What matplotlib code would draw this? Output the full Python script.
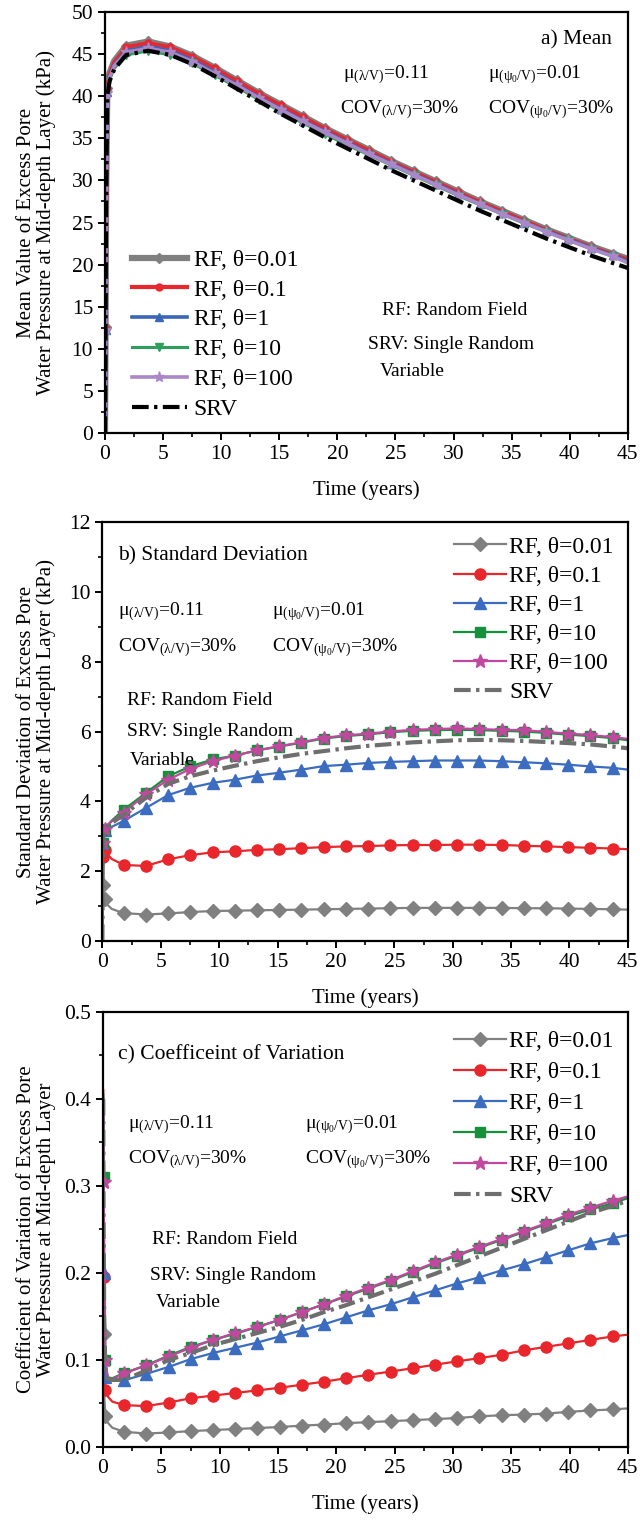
import matplotlib
matplotlib.use("Agg")
import matplotlib.pyplot as plt
from matplotlib.ticker import MultipleLocator, AutoMinorLocator, FormatStrFormatter

plt.rcParams.update({
    "font.family": ["Liberation Serif", "DejaVu Serif"],
    "mathtext.fontset": "custom",
    "mathtext.rm": "Liberation Serif",
    "mathtext.it": "Liberation Serif:italic",
    "mathtext.default": "regular",
    "axes.linewidth": 1.6,
    "xtick.direction": "out",
    "ytick.direction": "out",
    "xtick.major.width": 1.4,
    "ytick.major.width": 1.4,
    "xtick.minor.width": 1.2,
    "ytick.minor.width": 1.2,
    "xtick.major.size": 5,
    "ytick.major.size": 5,
    "xtick.minor.size": 3,
    "ytick.minor.size": 3,
})

# ---------------- data ----------------
TIME = [0.0, 0.02, 0.05, 0.1, 0.2, 0.4, 0.8,
        1.82, 3.72, 5.63, 7.53, 9.43, 11.34, 13.24, 15.14, 17.05, 18.95,
        20.85, 22.76, 24.66, 26.56, 28.47, 30.37, 32.27, 34.18, 36.08,
        37.98, 39.89, 41.79, 43.69, 45.0]
TIME_COV = TIME[1:]

LABELS = ["RF, θ=0.01", "RF, θ=0.1", "RF, θ=1", "RF, θ=10", "RF, θ=100", "SRV"]

# mean excess pore water pressure (kPa)
mean_t001 = [0, 4.6, 12.6, 28.5, 41.0, 42.8, 44.2, 46.0, 46.5, 45.9, 44.8, 43.4, 41.9, 40.4,
             39.0, 37.6, 36.2, 34.9, 33.6, 32.3, 31.1, 29.9, 28.7, 27.5, 26.4, 25.3, 24.2,
             23.2, 22.2, 21.3, 20.7]
mean_t01 = [0, 4.4, 12.3, 28.0, 40.8, 42.6, 44.0, 45.8, 46.3, 45.8, 44.7, 43.3, 41.8, 40.3,
            38.9, 37.5, 36.1, 34.8, 33.5, 32.2, 31.0, 29.8, 28.6, 27.4, 26.3, 25.2, 24.1,
            23.1, 22.1, 21.2, 20.6]
mean_t1 = [0, 4.2, 12.2, 27.6, 40.5, 42.3, 43.7, 45.4, 45.9, 45.4, 44.3, 42.9, 41.4, 39.9,
           38.5, 37.1, 35.8, 34.5, 33.2, 32.0, 30.8, 29.6, 28.4, 27.2, 26.1, 25.0, 24.0,
           23.0, 22.0, 21.1, 20.4]
mean_t10 = [0, 4.0, 12.0, 27.2, 40.2, 42.0, 43.3, 44.9, 45.4, 44.9, 43.9, 42.5, 41.1, 39.6,
            38.2, 36.8, 35.5, 34.2, 33.0, 31.8, 30.6, 29.4, 28.2, 27.1, 26.0, 24.9, 23.9,
            22.9, 21.9, 21.0, 20.3]
mean_t100 = [0, 4.1, 12.2, 27.5, 40.4, 42.2, 43.6, 45.2, 45.7, 45.2, 44.1, 42.7, 41.3, 39.8,
             38.4, 37.0, 35.7, 34.4, 33.1, 31.9, 30.7, 29.5, 28.3, 27.2, 26.0, 25.0, 23.9,
             22.9, 21.9, 21.0, 20.2]
mean_srv = [0, 4.0, 12.0, 27.0, 40.0, 41.8, 43.2, 44.9, 45.4, 44.9, 43.8, 42.4, 40.9, 39.4,
            37.9, 36.5, 35.1, 33.8, 32.5, 31.2, 30.0, 28.8, 27.6, 26.4, 25.3, 24.2, 23.1,
            22.1, 21.1, 20.2, 19.6]

# standard deviation (kPa)
sd_t001 = [0, 1.0, 1.6, 1.3, 1.2, 1.05, 0.92, 0.80, 0.76, 0.79, 0.83, 0.86, 0.87, 0.88, 0.89,
           0.90, 0.91, 0.92, 0.93, 0.94, 0.95, 0.95, 0.95, 0.95, 0.95, 0.94, 0.94, 0.93,
           0.92, 0.91, 0.90]
sd_t01 = [0, 1.5, 2.4, 2.65, 2.62, 2.5, 2.35, 2.18, 2.15, 2.34, 2.46, 2.54, 2.57, 2.61, 2.63,
          2.66, 2.69, 2.71, 2.72, 2.74, 2.75, 2.75, 2.76, 2.76, 2.75, 2.73, 2.71, 2.69,
          2.67, 2.65, 2.63]
sd_t1 = [0, 1.8, 2.8, 3.1, 3.17, 3.2, 3.27, 3.44, 3.81, 4.18, 4.39, 4.53, 4.62, 4.74, 4.82,
         4.91, 5.01, 5.05, 5.10, 5.13, 5.15, 5.17, 5.17, 5.17, 5.15, 5.12, 5.09, 5.05,
         5.00, 4.96, 4.91]
sd_t10 = [0, 1.8, 2.8, 3.15, 3.22, 3.3, 3.45, 3.76, 4.24, 4.72, 5.0, 5.2, 5.31, 5.46, 5.57,
          5.68, 5.80, 5.87, 5.92, 5.98, 6.02, 6.04, 6.05, 6.04, 6.02, 6.00, 5.96, 5.91,
          5.87, 5.81, 5.75]
sd_t100 = [0, 1.8, 2.8, 3.15, 3.22, 3.3, 3.43, 3.68, 4.2, 4.62, 4.93, 5.15, 5.31, 5.46, 5.58,
           5.69, 5.82, 5.89, 5.94, 6.0, 6.05, 6.07, 6.09, 6.07, 6.05, 6.04, 5.99, 5.94,
           5.90, 5.84, 5.79]
sd_srv = [0, 1.8, 2.8, 3.1, 3.2, 3.28, 3.38, 3.62, 4.1, 4.5, 4.72, 4.88, 5.02, 5.15, 5.26,
          5.36, 5.44, 5.52, 5.59, 5.64, 5.69, 5.72, 5.75, 5.76, 5.75, 5.73, 5.70, 5.67,
          5.63, 5.57, 5.52]

# coefficient of variation (plotted from the first non-zero time)
cov_t001 = [0.27, 0.13, 0.06, 0.035, 0.028, 0.022, 0.0174, 0.0154, 0.0166, 0.0182, 0.0194,
            0.0206, 0.0217, 0.0229, 0.0245, 0.0257, 0.0273, 0.0285, 0.0296, 0.0308, 0.032,
            0.0332, 0.0352, 0.0364, 0.0372, 0.0383, 0.0403, 0.0419, 0.0431, 0.0443]
cov_t01 = [0.41, 0.195, 0.1, 0.065, 0.058, 0.052, 0.048, 0.047, 0.051, 0.056, 0.059, 0.062,
           0.065, 0.068, 0.0715, 0.075, 0.079, 0.083, 0.0866, 0.0905, 0.0945, 0.0984, 0.102,
           0.106, 0.111, 0.115, 0.119, 0.123, 0.127, 0.129]
cov_t1 = [0.40, 0.20, 0.12, 0.08, 0.077, 0.076, 0.0767, 0.084, 0.092, 0.101, 0.108, 0.114,
          0.120, 0.127, 0.134, 0.141, 0.149, 0.157, 0.164, 0.172, 0.180, 0.188, 0.195, 0.203,
          0.210, 0.218, 0.226, 0.234, 0.240, 0.2435]
cov_t10 = [0.405, 0.31, 0.21, 0.1, 0.08, 0.079, 0.085, 0.094, 0.105, 0.115, 0.123, 0.130,
           0.138, 0.146, 0.155, 0.164, 0.173, 0.182, 0.191, 0.201, 0.211, 0.220, 0.229, 0.238,
           0.247, 0.256, 0.265, 0.273, 0.280, 0.286]
cov_t100 = [0.40, 0.305, 0.2, 0.1, 0.079, 0.078, 0.0846, 0.0937, 0.104, 0.114, 0.123, 0.131,
            0.138, 0.146, 0.155, 0.164, 0.174, 0.183, 0.192, 0.202, 0.212, 0.221, 0.230, 0.239,
            0.248, 0.257, 0.267, 0.275, 0.283, 0.288]
cov_srv = [0.40, 0.25, 0.15, 0.085, 0.078, 0.077, 0.077, 0.088, 0.1, 0.108, 0.117, 0.124,
           0.131, 0.138, 0.146, 0.155, 0.163, 0.172, 0.181, 0.19, 0.199, 0.209, 0.219, 0.229,
           0.239, 0.249, 0.259, 0.269, 0.277, 0.283]

# ---------------- styles ----------------
MARK_IDX = [2, 4] + list(range(7, 30))          # marker positions on TIME
MARK_IDX_COV = [i - 1 for i in MARK_IDX]          # same positions on TIME_COV

style_a = [
    dict(color="#808080", lw=4.5, marker="D", ms=5),
    dict(color="#e8282e", lw=3.0, marker="o", ms=5),
    dict(color="#3a66b8", lw=2.6, marker="^", ms=6),
    dict(color="#2ca05a", lw=2.2, marker="v", ms=6),
    dict(color="#a987c8", lw=2.6, marker="*", ms=8),
    dict(color="black", lw=3.0, marker=None, ls=(0, (4, 1.3, 0.8, 1.3))),
]
style_bc = [
    dict(color="#808080", lw=1.6, marker="D", ms=7),
    dict(color="#e8262b", lw=1.6, marker="o", ms=8),
    dict(color="#3b6cc0", lw=1.6, marker="^", ms=8),
    dict(color="#15913b", lw=1.6, marker="s", ms=7),
    dict(color="#c0489e", lw=1.6, marker="*", ms=10),
    dict(color="#6e6e6e", lw=3.0, marker=None, ls=(0, (4, 1.3, 0.8, 1.3))),
]

FS_TICK = 15.5
FS_LEG = 17
FS_LAB = 15
FS_NOTE = 14

fig = plt.figure(figsize=(6.4, 15.21), dpi=100)
ax_a = fig.add_axes([0.164, 0.7153, 0.817, 0.2768])
ax_b = fig.add_axes([0.160, 0.3813, 0.821, 0.2755])
ax_c = fig.add_axes([0.161, 0.0487, 0.820, 0.2860])


def draw_series(ax, t, series, styles, mark_idx):
    for y, lab, st in zip(series, LABELS, styles):
        st = dict(st)
        ls = st.pop("ls", "-")
        mk = st.pop("marker")
        ms = st.pop("ms", 6)
        ax.plot(t, y, linestyle=ls, marker=mk, markersize=ms,
                markevery=mark_idx if mk else None, label=lab, **st)


def style_axes(ax, ymax, ymajor, ylabel, yfmt=None):
    ax.set_xlim(0, 45)
    ax.set_ylim(0, ymax)
    ax.xaxis.set_major_locator(MultipleLocator(5))
    ax.xaxis.set_minor_locator(AutoMinorLocator(2))
    ax.yaxis.set_major_locator(MultipleLocator(ymajor))
    ax.yaxis.set_minor_locator(AutoMinorLocator(2))
    ax.tick_params(labelsize=FS_TICK)
    if yfmt:
        ax.yaxis.set_major_formatter(yfmt)
    ax.set_xlabel("Time (years)", fontsize=FS_LAB, labelpad=12)
    ax.set_ylabel(ylabel, fontsize=FS_LAB, linespacing=1.05)
    # right edge of the two-line label sits about 56 px from the figure edge
    pos = ax.get_position()
    ax.yaxis.set_label_coords(-(pos.x0 - 56 / 640) / pos.width, 0.5)


def notes(ax, mu_l, mu_p, cov_l, cov_p, rf, srv, var):
    kw = dict(transform=ax.transAxes, fontsize=FS_NOTE, va="center", ha="left")
    ax.text(*mu_l, r"μ$_{(λ/V)}$=0.11", **kw)
    ax.text(*mu_p, r"μ$_{(ψ_0/V)}$=0.01", **kw)
    ax.text(*cov_l, r"COV$_{(λ/V)}$=30%", **kw)
    ax.text(*cov_p, r"COV$_{(ψ_0/V)}$=30%", **kw)
    ax.text(*rf, "RF: Random Field", **kw)
    ax.text(*srv, "SRV: Single Random", **kw)
    ax.text(*var, "Variable", **kw)


# ---- a) mean ----
draw_series(ax_a, TIME, [mean_t001, mean_t01, mean_t1, mean_t10, mean_t100, mean_srv],
            style_a, MARK_IDX)
style_axes(ax_a, 50, 5,
           "Mean Value of Excess Pore\nWater Pressure at Mid-depth Layer (kPa)")
ax_a.text(0.969, 0.933, "a) Mean", transform=ax_a.transAxes, fontsize=FS_LAB + 0.5,
          ha="right", va="center")
notes(ax_a, (0.455, 0.850), (0.732, 0.850), (0.449, 0.767), (0.732, 0.767),
      (0.530, 0.292), (0.503, 0.211), (0.525, 0.145))
ax_a.legend(loc="upper left", bbox_to_anchor=(0.025, 0.47), frameon=False,
            fontsize=FS_LEG, handlelength=2.3, handletextpad=0.3, labelspacing=0.35,
            borderaxespad=0.2)

# ---- b) standard deviation ----
draw_series(ax_b, TIME, [sd_t001, sd_t01, sd_t1, sd_t10, sd_t100, sd_srv],
            style_bc, MARK_IDX)
style_axes(ax_b, 12, 2,
           "Standard Deviation of Excess Pore\nWater Pressure at Mid-depth Layer (kPa)")
ax_b.text(0.030, 0.919, "b) Standard Deviation", transform=ax_b.transAxes,
          fontsize=FS_LAB + 0.5, ha="left", va="center")
notes(ax_b, (0.030, 0.785), (0.323, 0.785), (0.030, 0.699), (0.323, 0.699),
      (0.046, 0.573), (0.046, 0.499), (0.053, 0.432))
ax_b.legend(loc="upper right", bbox_to_anchor=(1.0, 1.0), frameon=False,
            fontsize=FS_LEG, handlelength=2.2, handletextpad=0.15, labelspacing=0.32,
            borderaxespad=0.2)

# ---- c) coefficient of variation ----
draw_series(ax_c, TIME_COV, [cov_t001, cov_t01, cov_t1, cov_t10, cov_t100, cov_srv],
            style_bc, MARK_IDX_COV)
style_axes(ax_c, 0.5, 0.1,
           "Coefficient of Variation of Excess Pore\nWater Pressure at Mid-depth Layer",
           yfmt=FormatStrFormatter("%.1f"))
ax_c.text(0.029, 0.901, "c) Coefficeint of Variation", transform=ax_c.transAxes,
          fontsize=FS_LAB + 0.5, ha="left", va="center")
notes(ax_c, (0.048, 0.740), (0.385, 0.740), (0.048, 0.660), (0.385, 0.660),
      (0.093, 0.476), (0.090, 0.393), (0.101, 0.331))
ax_c.legend(loc="upper right", bbox_to_anchor=(1.0, 0.99), frameon=False,
            fontsize=FS_LEG, handlelength=2.2, handletextpad=0.15, labelspacing=0.4,
            borderaxespad=0.2)

fig.savefig("out.png", dpi=100)
